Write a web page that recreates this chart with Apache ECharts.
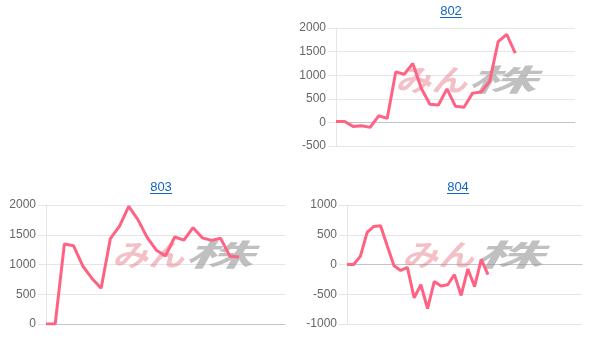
<!DOCTYPE html>
<html>
<head>
<meta charset="utf-8">
<script src="https://cdn.jsdelivr.net/npm/echarts@6/dist/echarts.min.js"></script>
<style>
html,body{margin:0;padding:0;background:#fff;}
#c{width:600px;height:352px;}
</style>
</head>
<body>
<div id="c"></div>
<script>
// ---- data ----
const titles = ['802', '803', '804'];
const values802 = [20, 20, -85, -70, -105, 140, 85, 1070, 1020, 1250, 720, 385, 370, 710, 340, 320, 620, 645, 870, 1710, 1865, 1465];
const values803 = [0, 0, 1345, 1315, 975, 765, 600, 1435, 1645, 1978, 1755, 1455, 1240, 1145, 1462, 1410, 1618, 1448, 1405, 1440, 1140, 1128];
const values804 = [0, 0, 140, 540, 640, 650, 310, -20, -100, -50, -560, -340, -740, -285, -360, -340, -170, -520, -75, -370, 85, -170];
const catCount802 = 29;
const catCount803 = 27;
const catCount804 = 36;
const ticks802 = {min: -500, max: 2000, interval: 500};
const ticks803 = {min: 0, max: 2000, interval: 500};
const ticks804 = {min: -1000, max: 1000, interval: 500};

function cats(n) { const a = []; for (let i = 1; i <= n; i++) a.push(String(i)); return a; }

const lineColor = 'rgb(255,99,132)';
const font = 'Liberation Sans, Arial, sans-serif';

const grids = [
  {left: 336, top: 28, width: 239, height: 118},
  {left: 46, top: 205, width: 239, height: 119},
  {left: 347, top: 205, width: 235, height: 119}
];
const catCounts = [catCount802, catCount803, catCount804];
const seriesVals = [values802, values803, values804];
const tickSets = [ticks802, ticks803, ticks804];

const xAxes = grids.map((g, i) => ({
  type: 'category', gridIndex: i, data: cats(catCounts[i]), boundaryGap: false,
  axisLabel: {show: false}, axisTick: {show: false},
  axisLine: {show: true, lineStyle: {color: '#c4c4c4', width: 1}},
  splitLine: {show: false}
}));
const yAxes = grids.map((g, i) => ({
  type: 'value', gridIndex: i, min: tickSets[i].min, max: tickSets[i].max, interval: tickSets[i].interval,
  axisLine: {show: true, lineStyle: {color: '#e6e6e6'}},
  axisTick: {show: true, length: 8, lineStyle: {color: '#e6e6e6'}},
  axisLabel: {color: '#666', fontSize: 12, fontFamily: font, margin: 10, formatter: v => String(v)},
  splitLine: {show: true, lineStyle: {color: '#e6e6e6'}}
}));
const series = seriesVals.map((v, i) => ({
  type: 'line', xAxisIndex: i, yAxisIndex: i, data: v, symbol: 'none', smooth: false, z: 5,
  lineStyle: {color: lineColor, width: 3}, itemStyle: {color: lineColor}
}));

const titlePos = [{x: 451, y: 12}, {x: 161, y: 188}, {x: 458, y: 188}];
const title = titles.map((t, i) => ({
  text: t, left: titlePos[i].x, top: titlePos[i].y - 7, textAlign: 'center',
  textStyle: {color: '#1565c8', fontSize: 13, fontWeight: 'normal', fontFamily: font}, padding: 0
}));

const wmPos = [{x: 395, y: 80}, {x: 112, y: 255}, {x: 402, y: 255}];
const graphic = [];
titlePos.forEach((p, i) => {
  graphic.push({type: 'line', z: 10, shape: {x1: p.x - 11, y1: p.y + 5.5, x2: p.x + 11, y2: p.y + 5.5}, style: {stroke: '#1565c8', lineWidth: 1}});
});
wmPos.forEach((p, i) => {
  graphic.push({type: 'group', x: p.x, y: p.y, z: 1, children: [
    {type: 'text', x: 0, y: 0, scaleX: 1.2, z: 1,
     style: {text: 'みん', fill: 'rgba(225,105,118,0.42)', font: 'italic bold 30px "Noto Sans CJK JP"', align: 'left', verticalAlign: 'middle'}},
    {type: 'text', x: 72, y: 0, scaleX: 2.3, z: 1,
     style: {text: '株', fill: 'rgba(150,150,150,0.6)', font: 'italic bold 30px "Noto Sans CJK JP"', align: 'left', verticalAlign: 'middle'}}
  ]});
});

const chart = echarts.init(document.getElementById('c'), null, {renderer: 'canvas'});
chart.setOption({
  animation: false,
  backgroundColor: '#fff',
  title: title,
  grid: grids,
  xAxis: xAxes,
  yAxis: yAxes,
  series: series,
  graphic: graphic
});
</script>
</body>
</html>
